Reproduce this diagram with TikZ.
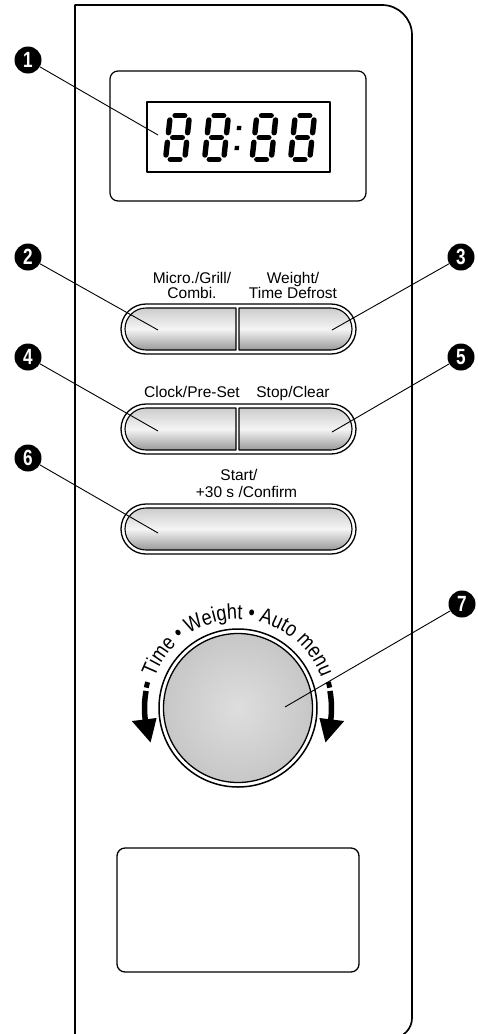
\documentclass[tikz,border=0pt]{standalone}
\usepackage{fontspec}
\setmainfont{Liberation Sans}
\newfontfamily\knobfont[FakeStretch=0.84]{Liberation Sans}
\usetikzlibrary{decorations.text}
\newcommand\bnum[1]{\scalebox{0.78}[1]{#1}}
\begin{document}
\begin{tikzpicture}[x=1pt, y=-1pt, line join=round,
  badge/.style={circle, fill=black, text=white, minimum size=27pt, inner sep=0pt, font=\bfseries\fontsize{22}{22}\selectfont},
  leader/.style={line width=0.9pt},
  lbl/.style={anchor=base, inner sep=0pt, font=\fontsize{15.5}{15}\selectfont},
  pillout/.style={draw, line width=1.3pt, fill=white},
  pillin/.style={draw, line width=1.1pt, top color=black!20, bottom color=black!40, middle color=black!4},
  seg/.style={line width=5.4pt, line cap=round}]
\useasboundingbox (0,0) rectangle (477,1034);
\clip (0,0) rectangle (477,1034);
% panel
\draw[line width=1.7pt] (75,1045) -- (75,5) [rounded corners=30pt] -- (412,5) [rounded corners=20pt] -- (412,1038) -- (360,1038);
% display
\draw[line width=1.2pt, rounded corners=8pt] (110,71) rectangle (366,201);
\draw[line width=1.4pt] (147,102) rectangle (330,172);
\foreach \cx in {177.5,216.5,264,302.5}{
  \begin{scope}[shift={(\cx,137.5)}, xslant=0.11]
    \draw[seg] (-4.8,-21.8) -- (4.8,-21.8);
    \draw[seg] (-4.8,0) -- (4.8,0);
    \draw[seg] (-4.8,21.8) -- (4.8,21.8);
    \draw[seg] (-9.6,-17.5) -- (-9.6,-4.8);
    \draw[seg] (-9.6,4.8) -- (-9.6,17.5);
    \draw[seg] (9.6,-17.5) -- (9.6,-4.8);
    \draw[seg] (9.6,4.8) -- (9.6,17.5);
  \end{scope}}
\begin{scope}[shift={(238,137.5)}, xslant=0.11]
  \fill (-2.2,-11.7) rectangle (2.2,-7.3);
  \fill (-2.2,8.3) rectangle (2.2,12.7);
\end{scope}
% row 1
\path[pillout, rounded corners=25pt] (121,304) rectangle (356,354);
\path[pillin] (236,308) -- (146,308) arc[start angle=270, end angle=90, radius=21] -- (236,350) -- cycle;
\path[pillin] (239,308) -- (331,308) arc[start angle=-90, end angle=90, radius=21] -- (239,350) -- cycle;
% row 2
\path[pillout, rounded corners=25pt] (121,404) rectangle (356,454);
\path[pillin] (236,408) -- (146,408) arc[start angle=270, end angle=90, radius=21] -- (236,450) -- cycle;
\path[pillin] (239,408) -- (331,408) arc[start angle=-90, end angle=90, radius=21] -- (239,450) -- cycle;
% row 3
\path[pillout, rounded corners=25pt] (121,504) rectangle (356,554);
\path[pillin, rounded corners=21pt] (125,508) rectangle (352,550);
% labels
\node[lbl] (l2a) at (192,283) {Micro./Grill/};
\node[lbl] (l2b) at (192,298) {Combi.};
\node[lbl] (l3a) at (293,283) {Weight/};
\node[lbl] (l3b) at (293,298) {Time Defrost};
\node[lbl] (l4) at (192,397) {Clock/Pre-Set};
\node[lbl] (l5) at (293,397) {Stop/Clear};
\node[lbl] (l6a) at (239,480) {Start/};
\node[lbl] (l6b) at (246.5,497) {+30 s /Confirm};
% knob
\begin{scope}[shift={(238,708)}, y=1pt]
  \draw[line width=1.5pt, fill=white] (0,0) circle[radius=79];
  \draw[line width=1.3pt, shading=radial, inner color=black!13, outer color=black!22] (0,0) circle[radius=74.5];
  \path[decorate, decoration={text along path, text align=center,
     text={|\knobfont\fontsize{21.5}{21.5}\selectfont|Time • Weight • Auto menu}}]
     (200:88.5) arc[start angle=200, end angle=-20, radius=88.5];
  \draw[line width=5pt] (164:94) arc[start angle=164, end angle=167.5, radius=94];
  \draw[line width=5.5pt] (169.5:93.5) arc[start angle=169.5, end angle=190, radius=93.5];
  \fill (187:82) -- (187:107) -- (201.5:94) -- cycle;
  \draw[line width=5pt] (16:94) arc[start angle=16, end angle=12.5, radius=94];
  \draw[line width=5.5pt] (10.5:93.5) arc[start angle=10.5, end angle=-10, radius=93.5];
  \fill (-7:82) -- (-7:107) -- (-21.5:94) -- cycle;
\end{scope}
% bottom box
\draw[line width=1.3pt, rounded corners=8pt] (117,848) rectangle (359,972);
% badges and leaders
\node[badge] (b1) at (28,60) {\bnum{1}};
\node[badge] (b2) at (28,257) {\bnum{2}};
\node[badge] (b3) at (461,257) {\bnum{3}};
\node[badge] (b4) at (28,357) {\bnum{4}};
\node[badge] (b5) at (461,357) {\bnum{5}};
\node[badge] (b6) at (28,458) {\bnum{6}};
\node[badge] (b7) at (462,604) {\bnum{7}};
\coordinate (t1) at (158,135);
\coordinate (t2) at (158,330);
\coordinate (t3) at (332,330);
\coordinate (t4) at (158,431);
\coordinate (t5) at (332,432);
\coordinate (t6) at (158,533);
\coordinate (t7) at (285,707);
\foreach \i in {1,...,7}{\draw[leader] (b\i) -- (t\i);}
\end{tikzpicture}
\end{document}
